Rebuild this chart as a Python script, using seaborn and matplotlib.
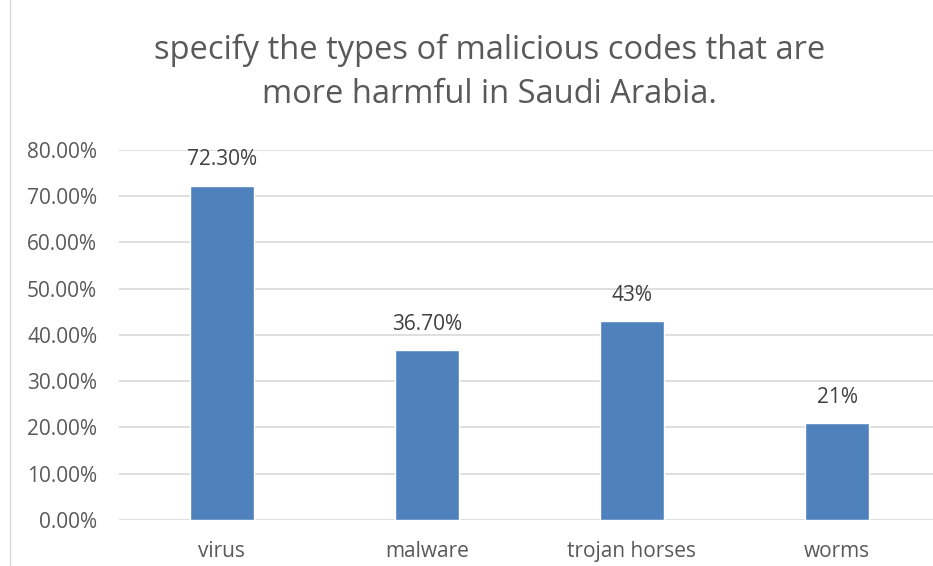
import matplotlib
matplotlib.use("Agg")
import matplotlib.pyplot as plt
import seaborn as sns
import pandas as pd
from matplotlib.ticker import PercentFormatter

categories = ["virus", "malware", "trojan horses", "worms"]
values = [0.723, 0.367, 0.43, 0.21]
labels = ["72.30%", "36.70%", "43%", "21%"]
title = "specify the types of malicious codes that are\nmore harmful in Saudi Arabia."

sns.set_theme(style="white")
plt.rcParams['font.family'] = ['Open Sans', 'DejaVu Sans']

df = pd.DataFrame({"cat": categories, "val": values})

fig = plt.figure(figsize=(9.33, 5.66), dpi=100)
ax = fig.add_axes([0.128, 0.0813, 0.879, 0.6537])
sns.barplot(data=df, x="cat", y="val", color="#4F81BD", width=0.315, ax=ax, saturation=1)

ax.set_ylim(0, 0.8)
ax.set_xlim(-0.5, 3.5)
ax.set_yticks([i / 10 for i in range(9)])
ax.yaxis.set_major_formatter(PercentFormatter(1.0, decimals=2))
ax.grid(axis="y", color="#D9D9D9", linewidth=1.2)
ax.set_axisbelow(True)
for s in ax.spines.values():
    s.set_visible(False)
ax.set_xlabel("")
ax.set_ylabel("")
ax.tick_params(axis="y", labelsize=15, colors="#595959", length=0, pad=16)
ax.tick_params(axis="x", labelsize=15, colors="#595959", length=0, pad=15)

for p, lab in zip(ax.patches, labels):
    ax.annotate(lab, (p.get_x() + p.get_width() / 2, p.get_height()),
                xytext=(0, 11), textcoords="offset points", ha="center", va="bottom",
                fontsize=15, color="#404040")

fig.text(0.525, 0.94, title, ha="center", va="top", fontsize=23.5, color="#595959",
         linespacing=1.45)

# left edge frame line
fig.add_artist(plt.Line2D([0.0107, 0.0107], [0, 1], color="#D9D9D9", linewidth=1))

fig.savefig("out.png", dpi=100)
